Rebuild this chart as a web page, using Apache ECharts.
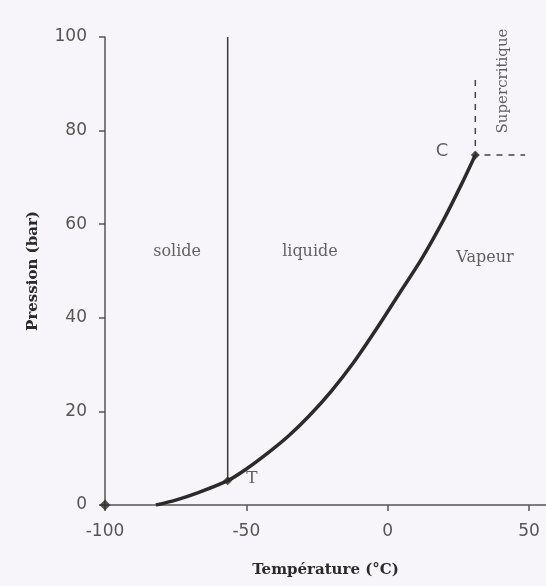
<!DOCTYPE html>
<html>
<head>
<meta charset="utf-8">
<script src="https://cdn.jsdelivr.net/npm/echarts@6/dist/echarts.min.js"></script>
<style>
html,body{margin:0;padding:0;background:#f7f5f9;}
#c{width:546px;height:586px;}
</style>
</head>
<body>
<div id="c"></div>
<script>
// Phase-boundary curve (sublimation + vaporisation), temperature in °C, pressure in bar
const curveT = [-82, -75, -67, -56.6, -50, -42, -35, -28, -20, -12, -4, 4, 12, 20, 26, 31];
const curveP = [0, 1.05, 2.65, 5.2, 7.7, 11.3, 14.8, 18.9, 24.3, 30.5, 37.6, 45.1, 52.6, 61.2, 68.4, 74.8];

// Fusion line (vertical, from triple point up)
const fusionT = [-56.6, -56.6];
const fusionP = [5.2, 100];

// Supercritical boundary (dashed)
const critT = [31, 31, 48.6];
const critP = [90.8, 74.8, 74.8];

// Marked points: origin, triple point T, critical point C
const pointT = [-100, -56.6, 31];
const pointP = [0, 5.2, 74.8];
const pointSize = [11, 9, 9];

// Text labels placed in data space
const labelText = ['solide', 'liquide', 'Vapeur', 'Supercritique', 'T', 'C'];
const labelT = [-74.5, -27.5, 34.4, 40.8, -48, 19.2];
const labelP = [54, 54, 52.8, 90.6, 5.6, 75.6];
const labelRot = [0, 0, 0, 90, 0, 0];
const labelSize = [16, 16, 16, 15, 17, 18];

// Axis ticks
const xTicks = [-100, -50, 0, 50];
const yTicks = [0, 20, 40, 60, 80, 100];

const zip = (a, b) => a.map((v, i) => [v, b[i]]);

const chart = echarts.init(document.getElementById('c'));
chart.setOption({
  backgroundColor: '#f7f5f9',
  animation: false,
  grid: { left: 105, right: 0, top: 37, bottom: 81 },
  xAxis: {
    type: 'value', min: -100, max: 56, interval: 50,
    name: 'Température (°C)', nameLocation: 'middle', nameGap: 58,
    nameTextStyle: { fontFamily: 'DejaVu Serif', fontWeight: 'bold', fontSize: 15, color: '#2a2a2a' },
    axisLine: { show: true, onZero: false, lineStyle: { color: '#555', width: 1.5 } },
    axisTick: { show: true, length: 6, customValues: xTicks, lineStyle: { color: '#555', width: 1.5 } },
    axisLabel: { customValues: xTicks, margin: 18, fontFamily: 'DejaVu Sans', fontSize: 17, color: '#555' },
    splitLine: { show: false }
  },
  yAxis: {
    type: 'value', min: 0, max: 100, interval: 20,
    name: 'Pression (bar)', nameLocation: 'middle', nameGap: 64,
    nameTextStyle: { fontFamily: 'DejaVu Serif', fontWeight: 'bold', fontSize: 15, color: '#2a2a2a' },
    axisLine: { show: true, onZero: false, lineStyle: { color: '#555', width: 1.5 } },
    axisTick: { show: true, length: 6, customValues: yTicks, lineStyle: { color: '#555', width: 1.5 } },
    axisLabel: { customValues: yTicks, margin: 18, fontFamily: 'DejaVu Sans', fontSize: 17, color: '#555' },
    splitLine: { show: false }
  },
  series: [
    {
      type: 'line', data: zip(curveT, curveP), smooth: 0.3, symbol: 'none',
      lineStyle: { color: '#2b2b2b', width: 3.5 }, z: 3
    },
    {
      type: 'line', data: zip(fusionT, fusionP), symbol: 'none',
      lineStyle: { color: '#3a3a3a', width: 1.5 }, z: 2
    },
    {
      type: 'line', data: zip(critT, critP), symbol: 'none',
      lineStyle: { color: '#444', width: 1.5, type: [6, 6] }, z: 2
    },
    {
      type: 'scatter', clip: false, symbol: 'diamond',
      data: pointT.map((t, i) => ({ value: [t, pointP[i]], symbolSize: pointSize[i] })),
      itemStyle: { color: '#2b2b2b' }, z: 4
    },
    {
      type: 'scatter', clip: false, symbolSize: 0, silent: true,
      data: labelText.map((s, i) => ({
        value: [labelT[i], labelP[i]],
        label: {
          show: true, position: 'inside', formatter: s, rotate: labelRot[i],
          fontFamily: labelText[i] === 'C' ? 'DejaVu Sans' : 'DejaVu Serif',
          fontSize: labelSize[i], color: '#3a3a3a'
        }
      })),
      z: 5
    }
  ]
});
</script>
</body>
</html>
